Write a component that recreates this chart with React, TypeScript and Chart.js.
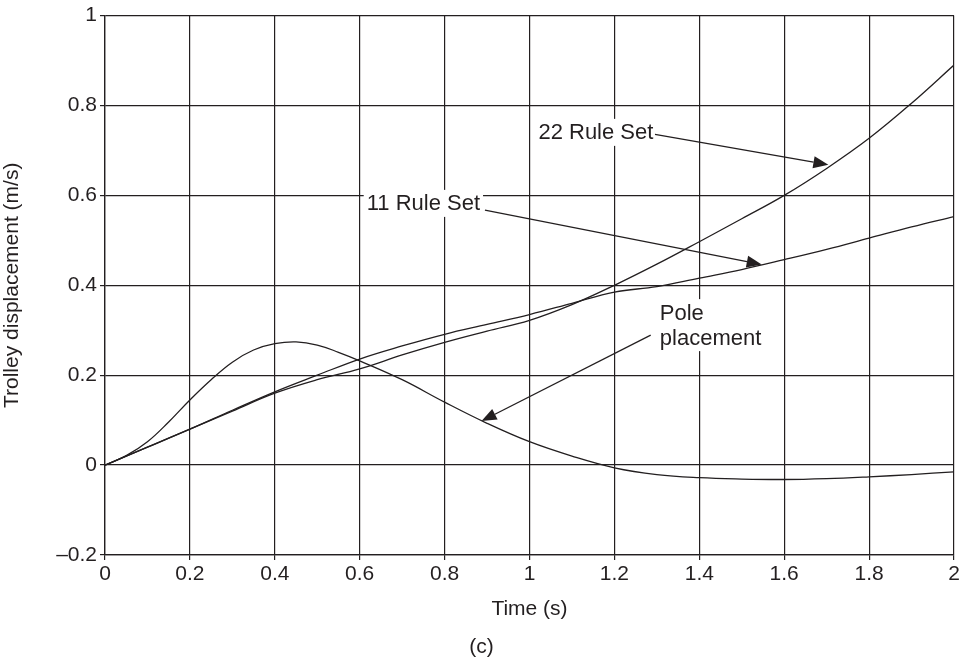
import React, { useEffect, useRef } from "react";
import { Chart, registerables } from "chart.js";

Chart.register(...registerables);

const timeRuleSet = [0, 0.1, 0.2, 0.3, 0.4, 0.5, 0.6, 0.7, 0.8, 0.9, 1.0, 1.1, 1.2, 1.3, 1.4, 1.5, 1.6, 1.7, 1.8, 1.9, 2.0];
const rule22 = [0, 0.04, 0.08, 0.12, 0.16, 0.19, 0.214, 0.245, 0.273, 0.298, 0.322, 0.357, 0.4, 0.447, 0.497, 0.548, 0.6, 0.66, 0.727, 0.805, 0.89];
const rule11 = [0, 0.04, 0.08, 0.122, 0.163, 0.2, 0.236, 0.265, 0.291, 0.313, 0.335, 0.36, 0.385, 0.397, 0.416, 0.435, 0.457, 0.48, 0.505, 0.53, 0.553];

const timePole = [0, 0.05, 0.1, 0.15, 0.2, 0.25, 0.3, 0.35, 0.4, 0.45, 0.5, 0.55, 0.6, 0.7, 0.8, 0.9, 1.0, 1.1, 1.2, 1.3, 1.4, 1.5, 1.6, 1.7, 1.8, 1.9, 2.0];
const pole = [0, 0.021, 0.052, 0.096, 0.145, 0.19, 0.229, 0.256, 0.27, 0.274, 0.267, 0.251, 0.232, 0.19, 0.14, 0.093, 0.052, 0.02, -0.006, -0.021, -0.028, -0.031, -0.032, -0.03, -0.026, -0.021, -0.015];

const xTicks = [0, 0.2, 0.4, 0.6, 0.8, 1, 1.2, 1.4, 1.6, 1.8, 2];
const yTicks = [-0.2, 0, 0.2, 0.4, 0.6, 0.8, 1];

// annotation anchors in data units
const labels = [
  { lines: ["22 Rule Set"], x: 1.021, y: 0.738, from: [1.2956, 0.736], to: [1.704, 0.668] },
  { lines: ["11 Rule Set"], x: 0.6165, y: 0.58, from: [0.895, 0.567], to: [1.547, 0.446] },
  { lines: ["Pole", "placement"], x: 1.307, y: 0.337, from: [1.2855, 0.289], to: [0.887, 0.098] },
];

const INK = "#231f20";
const FONT = "'Liberation Sans', Arial, Helvetica, sans-serif";

function fmt(v: number): string {
  const r = Math.round(v * 10) / 10;
  if (r < 0) return "\u2013" + String(-r);
  return String(r);
}

const annotationPlugin = {
  id: "annot",
  beforeDatasetsDraw(chart: any) {
    const { ctx, scales } = chart;
    ctx.save();
    ctx.font = `22px ${FONT}`;
    for (const l of labels) {
      const x0 = scales.x.getPixelForValue(l.x);
      const y0 = scales.y.getPixelForValue(l.y);
      const w = Math.max(...l.lines.map((s) => ctx.measureText(s).width));
      const lh = 25;
      const h = lh * l.lines.length;
      ctx.fillStyle = "#ffffff";
      ctx.fillRect(x0 - 3, y0 - lh / 2 - 2, w + 6, h + 2);
    }
    ctx.restore();
  },
  afterDatasetsDraw(chart: any) {
    const { ctx, scales, chartArea } = chart;
    ctx.save();
    ctx.font = `22px ${FONT}`;
    ctx.fillStyle = INK;
    ctx.textBaseline = "middle";
    ctx.textAlign = "left";
    for (const l of labels) {
      const x0 = scales.x.getPixelForValue(l.x);
      const y0 = scales.y.getPixelForValue(l.y);
      l.lines.forEach((s, i) => ctx.fillText(s, x0, y0 + i * 25));
      const fx = scales.x.getPixelForValue(l.from[0]);
      const fy = scales.y.getPixelForValue(l.from[1]);
      const tx = scales.x.getPixelForValue(l.to[0]);
      const ty = scales.y.getPixelForValue(l.to[1]);
      const ang = Math.atan2(ty - fy, tx - fx);
      const len = 15;
      const half = 6;
      const bx = tx - len * Math.cos(ang);
      const by = ty - len * Math.sin(ang);
      ctx.strokeStyle = INK;
      ctx.lineWidth = 1.3;
      ctx.beginPath();
      ctx.moveTo(fx, fy);
      ctx.lineTo(bx, by);
      ctx.stroke();
      ctx.beginPath();
      ctx.moveTo(tx, ty);
      ctx.lineTo(bx + half * Math.sin(ang), by - half * Math.cos(ang));
      ctx.lineTo(bx - half * Math.sin(ang), by + half * Math.cos(ang));
      ctx.closePath();
      ctx.fill();
    }
    // figure caption
    ctx.font = `21px ${FONT}`;
    ctx.textAlign = "center";
    ctx.fillText("(c)", (chartArea.left + chartArea.right) / 2 - 48, 647);
    ctx.restore();
  },
};

export default function App() {
  const ref = useRef<HTMLCanvasElement | null>(null);
  useEffect(() => {
    if (!ref.current) return;
    const mk = (xs: number[], ys: number[]) => xs.map((x, i) => ({ x, y: ys[i] }));
    const ds = (data: any[]) => ({
      data,
      showLine: true,
      borderColor: INK,
      borderWidth: 1.3,
      pointRadius: 0,
      fill: false,
      tension: 0.4,
    });
    const chart = new Chart(ref.current, {
      type: "scatter",
      data: {
        datasets: [
          ds(mk(timeRuleSet, rule22)),
          ds(mk(timeRuleSet, rule11)),
          ds(mk(timePole, pole)),
        ],
      },
      options: {
        responsive: false,
        animation: false,
        events: [],
        layout: { padding: { top: 11, right: 11, left: 0, bottom: 35 } },
        plugins: { legend: { display: false }, tooltip: { enabled: false } },
        scales: {
          x: {
            type: "linear",
            min: 0,
            max: 2,
            afterBuildTicks: (s: any) => {
              s.ticks = xTicks.map((v) => ({ value: v }));
            },
            afterFit: (s: any) => {
              s.height = 67;
            },
            ticks: {
              color: INK,
              font: { family: FONT, size: 21 },
              padding: 2,
              maxRotation: 0,
              autoSkip: false,
              callback: (v: any) => fmt(Number(v)),
            },
            grid: { color: INK, lineWidth: 1.2, tickLength: 5, drawTicks: true },
            border: { color: INK, width: 1.3 },
            title: {
              display: true,
              text: "Time (s)",
              color: INK,
              font: { family: FONT, size: 21 },
              padding: { top: 6, bottom: 0 },
            },
          },
          y: {
            type: "linear",
            min: -0.2,
            max: 1,
            afterBuildTicks: (s: any) => {
              s.ticks = yTicks.map((v) => ({ value: v }));
            },
            afterFit: (s: any) => {
              s.width = 105;
            },
            ticks: {
              color: INK,
              font: { family: FONT, size: 21 },
              padding: 3,
              autoSkip: false,
              callback: (v: any) => fmt(Number(v)),
            },
            grid: { color: INK, lineWidth: 1.2, tickLength: 5, drawTicks: true },
            border: { color: INK, width: 1.3 },
            title: {
              display: true,
              text: "Trolley displacement (m/s)",
              color: INK,
              font: { family: FONT, size: 21 },
              padding: { top: 0, bottom: 8 },
            },
          },
        },
      },
      plugins: [annotationPlugin],
    });
    return () => chart.destroy();
  }, []);
  return (
    <div style={{ position: "fixed", left: 0, top: 0, width: 965, height: 657, background: "#fff" }}>
      <canvas ref={ref} width={965} height={657} style={{ width: 965, height: 657, display: "block" }} />
    </div>
  );
}
